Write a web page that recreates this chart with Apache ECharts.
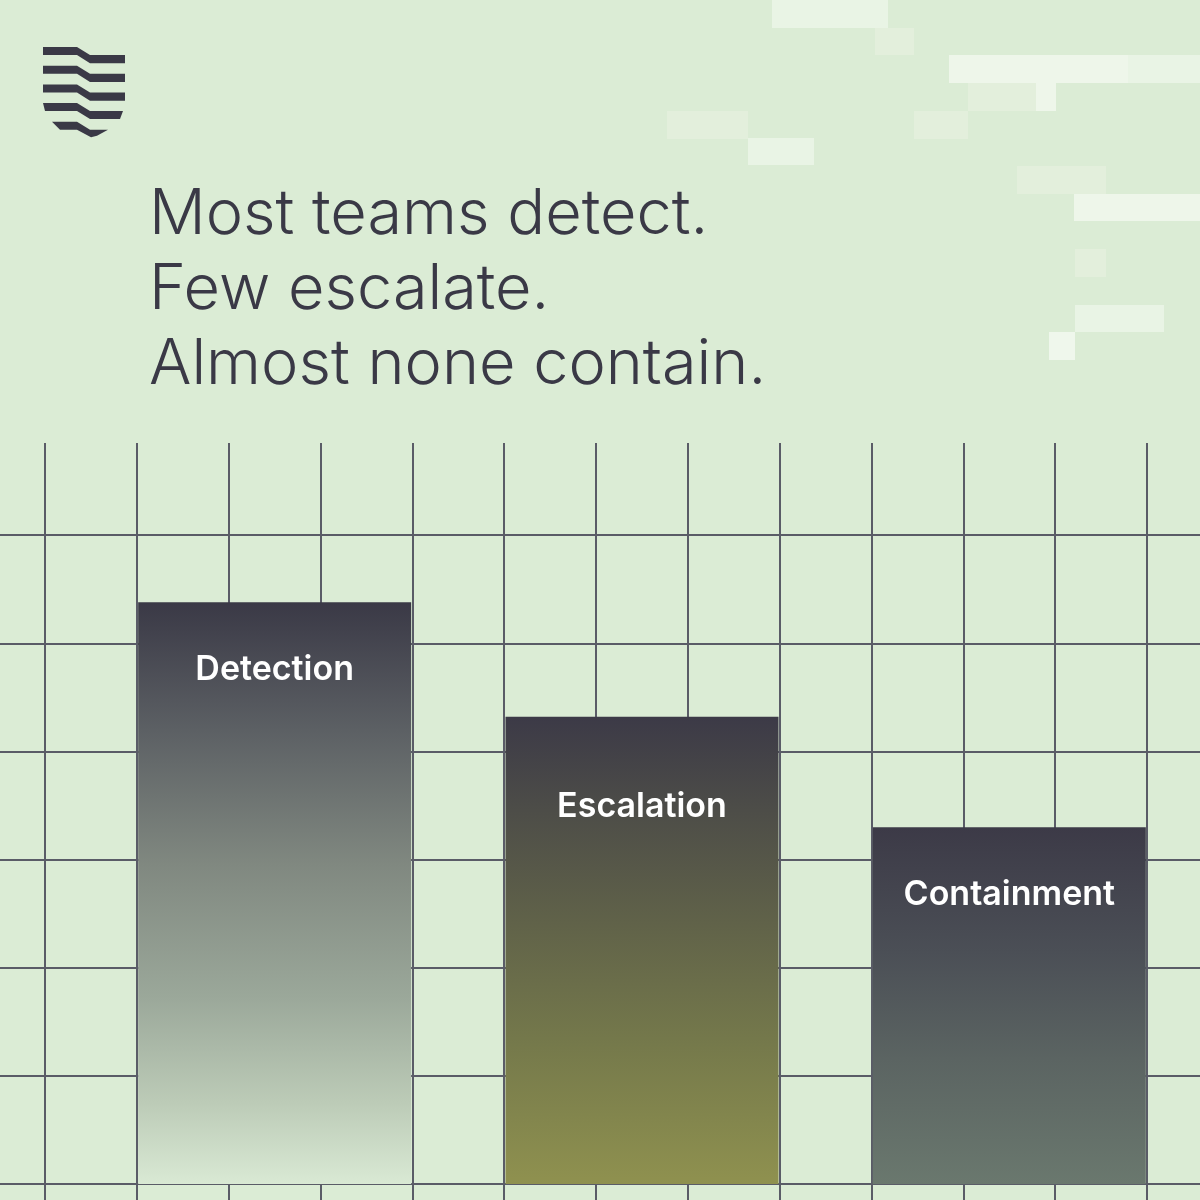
<!DOCTYPE html>
<html>
<head>
<meta charset="utf-8">
<script src="https://cdn.jsdelivr.net/npm/echarts@6/dist/echarts.min.js"></script>
<style>
html,body{margin:0;padding:0;background:#dbecd5;}
#c{width:1200px;height:1200px;}
</style>
</head>
<body>
<div id="c"></div>
<script>
// ---- data ----
const categories = ['Detection', 'Escalation', 'Containment'];
const values = [53.8, 43.2, 33.0];           // bar heights on a 0–70 scale
const yMin = 0, yMax = 70, yStep = 10;       // horizontal grid rows
const colMin = 0, colMax = 12, colStep = 1;  // vertical grid columns
const titleLines = ['Most teams detect.', 'Few escalate.', 'Almost none contain.'];

// ---- styles ----
const ink = '#3a3946';
const gridLine = '#5a5c67';
const gradients = [
  [['#3a3946', 0], ['#5c6064', 0.22], ['#808880', 0.45], ['#9ba89a', 0.68], ['#bccbb7', 0.86], ['#d9e9d4', 1]],
  [['#3c3a47', 0], ['#4d4d48', 0.2], ['#616349', 0.45], ['#75794b', 0.7], ['#8f914f', 1]],
  [['#3c3a47', 0], ['#4b4f56', 0.35], ['#5b6462', 0.65], ['#6a786e', 1]]
];
const labelDist = [51, 73, 51];

function grad(stops) {
  return { type: 'linear', x: 0, y: 0, x2: 0, y2: 1,
    colorStops: stops.map(s => ({ offset: s[1], color: s[0] })) };
}

// decorative pixel blocks (background art)
const blocks = [
  [772, 0, 116, 28, '#e9f4e5'],
  [875, 28, 39, 27, '#e3efdc'],
  [949, 55, 179, 28, '#eef6ea'],
  [1128, 55, 72, 28, '#e9f4e5'],
  [968, 83, 68, 28, '#e3efdc'],
  [1036, 83, 20, 28, '#eef6ea'],
  [667, 111, 81, 28, '#e3efdc'],
  [914, 111, 54, 28, '#e3efdc'],
  [748, 138, 66, 27, '#e9f4e5'],
  [1017, 166, 89, 28, '#e3efdc'],
  [1074, 194, 126, 27, '#eef6ea'],
  [1075, 249, 31, 28, '#e3efdc'],
  [1075, 305, 89, 27, '#e9f4e5'],
  [1049, 332, 26, 28, '#eff7ec']
];

// logo stripes
function stripe(i) {
  const y = 47 + i * 18.7;
  if (i < 3) return [[43, y], [77, y], [90, y + 8], [125, y + 8], [125, y + 16.3], [90, y + 16.3], [77, y + 8], [43, y + 8]];
  if (i === 3) return [[43, y], [77, y], [90, y + 8], [123, y + 8], [120, y + 16], [90, y + 16], [77, y + 8], [45, y + 8]];
  return [[52, y], [77, y], [90, y + 8], [108, y + 8], [97, y + 14], [91, y + 15.5], [77, y + 8], [60, y + 8]];
}

const graphics = [];
blocks.forEach(b => graphics.push({ type: 'rect', shape: { x: b[0], y: b[1], width: b[2], height: b[3] }, style: { fill: b[4] }, z: -10, silent: true }));
for (let i = 0; i < 5; i++) graphics.push({ type: 'polygon', shape: { points: stripe(i) }, style: { fill: ink }, z: 10 });

const chart = echarts.init(document.getElementById('c'), null, { renderer: 'canvas' });
const hidden = { show: false };
chart.setOption({
  backgroundColor: '#dbecd5',
  animation: false,
  title: {
    text: titleLines.join('\n'),
    left: 144, top: 173,
    textStyle: { fontFamily: 'Inter', fontWeight: 300, fontSize: 63, lineHeight: 75, color: ink }
  },
  graphic: graphics,
  grid: [
    { left: 45, width: 1102, top: 443, bottom: 0, containLabel: false },
    { left: 0, right: 0, top: 427, bottom: 16, containLabel: false },
    { left: 91, right: 7, top: 427, bottom: 16, containLabel: false }
  ],
  xAxis: [
    { gridIndex: 0, type: 'value', min: colMin, max: colMax, interval: colStep,
      axisLine: hidden, axisTick: hidden, axisLabel: hidden,
      splitLine: { show: true, showMinLine: true, showMaxLine: true, lineStyle: { color: gridLine, width: 2 } } },
    { gridIndex: 1, type: 'value', min: 0, max: 1, show: false },
    { gridIndex: 2, type: 'category', data: categories, show: false }
  ],
  yAxis: [
    { gridIndex: 0, type: 'value', min: 0, max: 1, show: false },
    { gridIndex: 1, type: 'value', min: yMin, max: yMax, interval: yStep,
      axisLine: hidden, axisTick: hidden, axisLabel: hidden,
      splitLine: { show: true, showMinLine: true, showMaxLine: false, lineStyle: { color: gridLine, width: 2 } } },
    { gridIndex: 2, type: 'value', min: yMin, max: yMax, show: false }
  ],
  series: [{
    type: 'bar',
    xAxisIndex: 2, yAxisIndex: 2,
    barWidth: 273,
    z: 5,
    data: values.map((v, i) => ({
      value: v,
      itemStyle: { color: grad(gradients[i]) },
      label: { distance: labelDist[i] }
    })),
    label: {
      show: true, position: 'insideTop',
      formatter: p => p.name,
      color: '#ffffff', fontFamily: 'Inter', fontWeight: 600, fontSize: 34, lineHeight: 34
    }
  }]
});
</script>
</body>
</html>
